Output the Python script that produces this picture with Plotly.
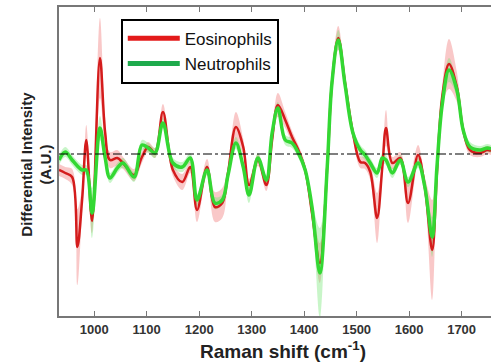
import plotly.graph_objects as go

# Raman shift (cm-1)
wavenumber = [933, 945, 958, 968, 977, 985, 996, 1011, 1021, 1030, 1044, 1055, 1076, 1091,
              1103, 1116, 1131, 1150, 1168, 1183, 1196, 1215, 1230, 1244, 1255, 1270, 1284,
              1295, 1312, 1328, 1339, 1350, 1364, 1377, 1389, 1402, 1415, 1430, 1444, 1453,
              1465, 1478, 1493, 1507, 1516, 1526, 1539, 1549, 1556, 1568, 1583, 1598, 1617,
              1630, 1644, 1653, 1663, 1676, 1691, 1703, 1716, 1735, 1749, 1756]

eosinophils = [-0.16, -0.19, -0.23, -0.93, -0.46, 0.14, -0.67, 0.96, 0.21, -0.06, -0.04, -0.09,
               -0.21, -0.03, 0.07, 0.01, 0.42, -0.16, -0.28, -0.13, -0.56, -0.13, -0.53, -0.49,
               -0.19, 0.27, 0.07, -0.31, -0.06, -0.31, 0.14, 0.49, 0.34, 0.17, 0.04, -0.16,
               -0.59, -1.09, -0.13, 0.71, 1.16, 0.71, 0.21, -0.08, -0.09, -0.18, -0.64, -0.13,
               0.26, -0.09, -0.04, -0.49, -0.01, -0.33, -0.96, -0.19, 0.57, 0.90, 0.67, 0.24,
               0.04, 0.01, 0.04, 0.03]

neutrophils = [-0.06, 0.02, -0.06, -0.12, -0.16, -0.16, -0.59, 0.26, -0.04, -0.24, -0.14, -0.09,
               -0.23, 0.09, 0.06, 0.01, 0.31, -0.09, -0.13, -0.04, -0.46, -0.16, -0.49, -0.46,
               -0.21, 0.11, -0.13, -0.41, -0.04, -0.26, 0.21, 0.46, 0.14, 0.11, 0.01, -0.16,
               -0.53, -1.19, -0.13, 0.71, 1.14, 0.69, 0.21, 0.04, -0.01, -0.09, -0.19, -0.04,
               -0.06, -0.19, -0.06, -0.28, -0.09, -0.33, -0.83, -0.13, 0.49, 0.84, 0.64, 0.24,
               0.07, 0.04, 0.06, 0.05]

eosinophils_sd = [0.06, 0.06, 0.08, 0.38, 0.12, 0.15, 0.12, 0.40, 0.15, 0.08, 0.08, 0.06, 0.06,
                  0.06, 0.05, 0.05, 0.08, 0.06, 0.08, 0.06, 0.12, 0.08, 0.15, 0.15, 0.08, 0.15,
                  0.08, 0.06, 0.06, 0.06, 0.08, 0.12, 0.08, 0.06, 0.05, 0.06, 0.08, 0.20, 0.08,
                  0.10, 0.12, 0.08, 0.06, 0.06, 0.06, 0.08, 0.25, 0.08, 0.18, 0.06, 0.06, 0.20,
                  0.10, 0.10, 0.50, 0.10, 0.10, 0.25, 0.15, 0.06, 0.05, 0.04, 0.04, 0.04]

neutrophils_sd = [0.05, 0.05, 0.05, 0.05, 0.05, 0.05, 0.25, 0.12, 0.05, 0.05, 0.05, 0.05, 0.05,
                  0.05, 0.05, 0.05, 0.05, 0.05, 0.05, 0.05, 0.06, 0.05, 0.06, 0.05, 0.05, 0.06,
                  0.05, 0.08, 0.05, 0.05, 0.05, 0.06, 0.05, 0.05, 0.05, 0.05, 0.06, 0.45, 0.06,
                  0.06, 0.10, 0.06, 0.05, 0.05, 0.05, 0.05, 0.05, 0.05, 0.05, 0.05, 0.05, 0.05,
                  0.05, 0.05, 0.20, 0.06, 0.06, 0.12, 0.06, 0.05, 0.05, 0.04, 0.04, 0.04]

x_ticks = [1000, 1100, 1200, 1300, 1400, 1500, 1600, 1700]

FONT = "Arial, Liberation Sans, sans-serif"

fig = go.Figure()


def add_band(y, sd, fill):
    upper = [a + b for a, b in zip(y, sd)]
    lower = [a - b for a, b in zip(y, sd)]
    fig.add_trace(go.Scatter(x=wavenumber, y=upper, mode="lines", line=dict(width=0, shape="spline"),
                             showlegend=False, hoverinfo="skip"))
    fig.add_trace(go.Scatter(x=wavenumber, y=lower, mode="lines", line=dict(width=0, shape="spline"),
                             fill="tonexty", fillcolor=fill, showlegend=False, hoverinfo="skip"))


add_band(eosinophils, eosinophils_sd, "rgba(240,110,110,0.38)")
add_band(neutrophils, neutrophils_sd, "rgba(110,230,110,0.38)")

fig.add_trace(go.Scatter(x=wavenumber, y=eosinophils, mode="lines",
                         line=dict(color="#d41c1c", width=2.5, shape="spline"),
                         showlegend=False, name="Eosinophils"))
fig.add_trace(go.Scatter(x=wavenumber, y=neutrophils, mode="lines",
                         line=dict(color="#33d833", width=3.5, shape="spline"),
                         showlegend=False, name="Neutrophils"))

# legend entries
fig.add_trace(go.Scatter(x=[None], y=[None], mode="lines", name="Eosinophils",
                         line=dict(color="#e31a1a", width=5)))
fig.add_trace(go.Scatter(x=[None], y=[None], mode="lines", name="Neutrophils",
                         line=dict(color="#1eaa4c", width=5)))

fig.add_shape(type="line", xref="paper", yref="y", x0=0, x1=1, y0=0, y1=0,
              line=dict(color="black", width=1.2, dash="dashdot"))

fig.add_annotation(text="<b>Raman shift (cm<sup>-1</sup>)</b>", xref="paper", yref="paper",
                   x=0.518, y=-0.11, xanchor="center", yanchor="middle", showarrow=False,
                   font=dict(size=19, color="#222", family=FONT))
fig.add_annotation(text="<b>Differential Intensity<br>(A.U.)</b>", xref="paper", yref="paper",
                   x=-0.053, y=0.49, xanchor="center", yanchor="middle", showarrow=False,
                   textangle=-90, font=dict(size=15, color="#222", family=FONT))

fig.update_layout(
    width=491, height=362,
    margin=dict(l=59, r=0, t=7, b=46),
    paper_bgcolor="white", plot_bgcolor="white",
    font=dict(family=FONT, color="#222"),
    legend=dict(x=0.143, y=0.962, xanchor="left", yanchor="top", traceorder="normal",
                bgcolor="white", bordercolor="black", borderwidth=2, itemwidth=52,
                font=dict(size=17, color="#111"), tracegroupgap=0),
    xaxis=dict(range=[933, 1756], tickvals=x_ticks, ticks="inside", ticklen=5,
               tickcolor="#777", showline=True, linecolor="#777", linewidth=2,
               mirror="ticks", showgrid=False, zeroline=False, automargin=False,
               tickfont=dict(size=13, color="#333", family=FONT, weight="bold")),
    yaxis=dict(range=[-1.62, 1.47], showticklabels=False, ticks="", showline=True,
               linecolor="#777", linewidth=2, showgrid=False, zeroline=False, automargin=False),
)

fig.write_html("out.html", config={"displayModeBar": False},
               post_script="document.body.style.margin='0px';document.body.style.overflow='hidden';")
